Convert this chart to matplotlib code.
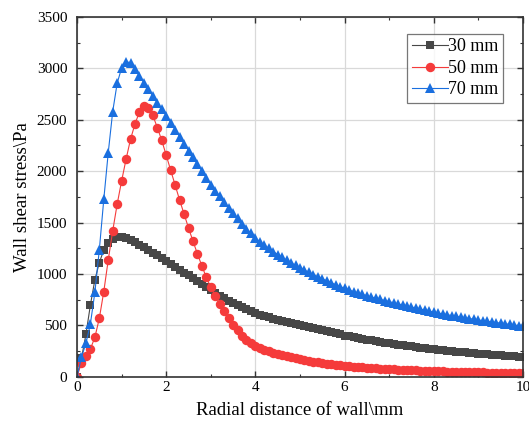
import numpy as np
import matplotlib
matplotlib.use("Agg")
import matplotlib.pyplot as plt
from matplotlib.ticker import MultipleLocator

# =============================================================
# Data (0.1 mm spacing)
# =============================================================
radial_mm = np.linspace(0, 10, 101)

shear_30mm = [
    0, 180, 413, 698, 942, 1110, 1233, 1300, 1338, 1355,
    1358, 1348, 1330, 1308, 1284, 1259, 1234, 1208, 1182, 1156,
    1130, 1101, 1072, 1043, 1014, 985, 956, 927, 898, 869,
    840, 814, 789, 765, 741, 718, 696, 675, 655, 636,
    618, 604, 591, 578, 566, 554, 543, 532, 521, 511,
    501, 491, 481, 471, 461, 451, 441, 431, 421, 411,
    401, 392, 384, 376, 368, 360, 353, 346, 339, 332,
    325, 319, 313, 307, 301, 295, 289, 283, 277, 271,
    265, 260, 256, 252, 248, 244, 240, 236, 232, 228,
    224, 220, 217, 213, 210, 207, 203, 200, 197, 193,
    190,
]

shear_50mm = [
    0, 136, 201, 270, 383, 568, 828, 1136, 1418, 1679,
    1905, 2117, 2311, 2460, 2577, 2639, 2618, 2542, 2425, 2300,
    2155, 2010, 1865, 1720, 1584, 1448, 1320, 1195, 1078, 966,
    870, 786, 712, 640, 572, 508, 450, 400, 360, 328,
    302, 282, 264, 248, 234, 221, 209, 198, 188, 179,
    170, 162, 154, 147, 140, 134, 128, 122, 117, 112,
    107, 103, 99, 95, 91, 88, 85, 82, 79, 76,
    73, 71, 69, 67, 65, 63, 61, 59, 57, 55,
    53, 52, 51, 49, 48, 47, 46, 45, 44, 43,
    42, 41, 40, 39, 38, 37, 36, 36, 35, 34,
    33,
]

shear_70mm = [
    0, 190, 325, 515, 820, 1235, 1725, 2180, 2580, 2855,
    3005, 3065, 3055, 2990, 2925, 2860, 2795, 2730, 2665, 2602,
    2540, 2472, 2404, 2336, 2268, 2200, 2134, 2068, 2002, 1936,
    1870, 1812, 1755, 1700, 1645, 1592, 1540, 1490, 1442, 1394,
    1350, 1314, 1280, 1248, 1218, 1189, 1161, 1134, 1108, 1084,
    1060, 1037, 1015, 994, 973, 953, 933, 914, 895, 877,
    860, 844, 829, 815, 801, 788, 775, 763, 752, 741,
    730, 719, 708, 698, 688, 678, 668, 658, 648, 638,
    628, 619, 611, 603, 595, 587, 580, 573, 566, 559,
    552, 545, 539, 533, 527, 521, 515, 509, 503, 497,
    490,
]

series_labels = ["30 mm", "50 mm", "70 mm"]

# =============================================================
# Plot
# =============================================================
plt.rcParams["font.family"] = ["Liberation Serif", "DejaVu Serif"]

fig = plt.figure(figsize=(5.29, 4.26), dpi=100)
ax = fig.add_axes([0.1456, 0.1157, 0.843, 0.8443])

styles = [
    dict(color="#474747", marker="s", markersize=6.0),
    dict(color="#F53B3B", marker="o", markersize=6.8),
    dict(color="#1A6FDF", marker="^", markersize=7.5),
]

for yvals, label, st in zip([shear_30mm, shear_50mm, shear_70mm], series_labels, styles):
    ax.plot(radial_mm, yvals, linestyle="-", linewidth=0.8,
            color=st["color"], marker=st["marker"],
            markersize=st["markersize"], markeredgewidth=0,
            label=label)

ax.set_xlim(0, 10)
ax.set_ylim(0, 3500)
ax.xaxis.set_major_locator(MultipleLocator(2))
ax.xaxis.set_minor_locator(MultipleLocator(1))
ax.yaxis.set_major_locator(MultipleLocator(500))
ax.yaxis.set_minor_locator(MultipleLocator(250))

ax.grid(True, which="major", color="#d9d9d9", linewidth=0.9)
ax.set_axisbelow(True)

ax.tick_params(which="both", direction="in", top=True, right=True,
               labelsize=11, color="#333333")
ax.tick_params(which="major", length=4, width=1.0)
ax.tick_params(which="minor", length=2.5, width=0.8)
ax.tick_params(axis="x", pad=3)
ax.tick_params(axis="y", pad=7)
for sp in ax.spines.values():
    sp.set_linewidth(1.2)
    sp.set_color("#333333")

ax.set_xlabel(r"Radial distance of wall\mm", fontsize=13.5, labelpad=6)
ax.set_ylabel(r"Wall shear stress\Pa", fontsize=13.5, labelpad=4)

leg = ax.legend(loc="upper right", bbox_to_anchor=(0.955, 0.953),
                fontsize=13, frameon=True, fancybox=False,
                handlelength=2.0, handletextpad=0.0, borderpad=0.25,
                labelspacing=0.25, borderaxespad=0.0)
leg.get_frame().set_edgecolor("#555555")
leg.get_frame().set_linewidth(0.9)

plt.savefig("out.png", dpi=100)
plt.close(fig)
